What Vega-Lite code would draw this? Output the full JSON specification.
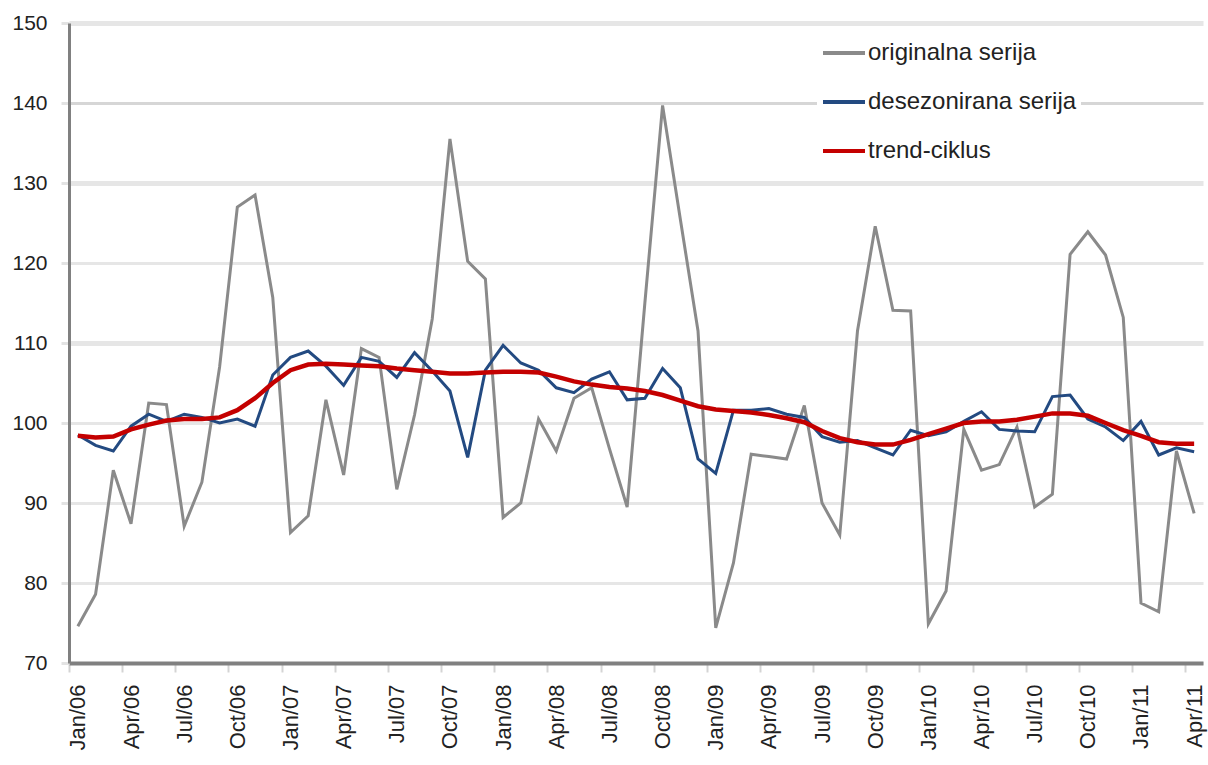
{
  "$schema": "https://vega.github.io/schema/vega-lite/v6.json",
  "width": 1134,
  "height": 640,
  "autosize": {"type": "none"},
  "padding": {"left": 69, "top": 23, "right": 5, "bottom": 102},
  "background": "white",
  "config": {
    "view": {"stroke": null},
    "font": "Liberation Sans"
  },
  "data": {
    "values": [
      {"m": "Jan/06", "originalna serija": 74.6, "desezonirana serija": 98.5, "trend-ciklus": 98.4},
      {"m": "Feb/06", "originalna serija": 78.6, "desezonirana serija": 97.2, "trend-ciklus": 98.2},
      {"m": "Mar/06", "originalna serija": 94.1, "desezonirana serija": 96.5, "trend-ciklus": 98.3},
      {"m": "Apr/06", "originalna serija": 87.4, "desezonirana serija": 99.6, "trend-ciklus": 99.2},
      {"m": "May/06", "originalna serija": 102.5, "desezonirana serija": 101.1, "trend-ciklus": 99.8},
      {"m": "Jun/06", "originalna serija": 102.3, "desezonirana serija": 100.2, "trend-ciklus": 100.3},
      {"m": "Jul/06", "originalna serija": 87.1, "desezonirana serija": 101.1, "trend-ciklus": 100.5},
      {"m": "Aug/06", "originalna serija": 92.6, "desezonirana serija": 100.7, "trend-ciklus": 100.5},
      {"m": "Sep/06", "originalna serija": 107.0, "desezonirana serija": 100.0, "trend-ciklus": 100.7},
      {"m": "Oct/06", "originalna serija": 127.0, "desezonirana serija": 100.5, "trend-ciklus": 101.6},
      {"m": "Nov/06", "originalna serija": 128.5, "desezonirana serija": 99.6, "trend-ciklus": 103.1},
      {"m": "Dec/06", "originalna serija": 115.7, "desezonirana serija": 106.0, "trend-ciklus": 105.0},
      {"m": "Jan/07", "originalna serija": 86.3, "desezonirana serija": 108.2, "trend-ciklus": 106.6},
      {"m": "Feb/07", "originalna serija": 88.4, "desezonirana serija": 109.0, "trend-ciklus": 107.3},
      {"m": "Mar/07", "originalna serija": 102.9, "desezonirana serija": 107.1, "trend-ciklus": 107.4},
      {"m": "Apr/07", "originalna serija": 93.5, "desezonirana serija": 104.7, "trend-ciklus": 107.3},
      {"m": "May/07", "originalna serija": 109.3, "desezonirana serija": 108.2, "trend-ciklus": 107.2},
      {"m": "Jun/07", "originalna serija": 108.2, "desezonirana serija": 107.7, "trend-ciklus": 107.1},
      {"m": "Jul/07", "originalna serija": 91.7, "desezonirana serija": 105.7, "trend-ciklus": 106.8},
      {"m": "Aug/07", "originalna serija": 101.0, "desezonirana serija": 108.8, "trend-ciklus": 106.6},
      {"m": "Sep/07", "originalna serija": 113.0, "desezonirana serija": 106.5, "trend-ciklus": 106.4},
      {"m": "Oct/07", "originalna serija": 135.5, "desezonirana serija": 104.0, "trend-ciklus": 106.2},
      {"m": "Nov/07", "originalna serija": 120.2, "desezonirana serija": 95.7, "trend-ciklus": 106.2},
      {"m": "Dec/07", "originalna serija": 118.0, "desezonirana serija": 106.6, "trend-ciklus": 106.3},
      {"m": "Jan/08", "originalna serija": 88.2, "desezonirana serija": 109.7, "trend-ciklus": 106.4},
      {"m": "Feb/08", "originalna serija": 90.0, "desezonirana serija": 107.5, "trend-ciklus": 106.4},
      {"m": "Mar/08", "originalna serija": 100.5, "desezonirana serija": 106.6, "trend-ciklus": 106.3},
      {"m": "Apr/08", "originalna serija": 96.5, "desezonirana serija": 104.4, "trend-ciklus": 105.8},
      {"m": "May/08", "originalna serija": 103.1, "desezonirana serija": 103.8, "trend-ciklus": 105.2},
      {"m": "Jun/08", "originalna serija": 104.4, "desezonirana serija": 105.5, "trend-ciklus": 104.8},
      {"m": "Jul/08", "originalna serija": 96.8, "desezonirana serija": 106.4, "trend-ciklus": 104.5},
      {"m": "Aug/08", "originalna serija": 89.5, "desezonirana serija": 102.9, "trend-ciklus": 104.3},
      {"m": "Sep/08", "originalna serija": 115.0, "desezonirana serija": 103.1, "trend-ciklus": 104.0},
      {"m": "Oct/08", "originalna serija": 139.7, "desezonirana serija": 106.8, "trend-ciklus": 103.5},
      {"m": "Nov/08", "originalna serija": 125.5, "desezonirana serija": 104.4, "trend-ciklus": 102.8},
      {"m": "Dec/08", "originalna serija": 111.5, "desezonirana serija": 95.5, "trend-ciklus": 102.1},
      {"m": "Jan/09", "originalna serija": 74.4, "desezonirana serija": 93.7, "trend-ciklus": 101.7},
      {"m": "Feb/09", "originalna serija": 82.5, "desezonirana serija": 101.6, "trend-ciklus": 101.5},
      {"m": "Mar/09", "originalna serija": 96.1, "desezonirana serija": 101.6, "trend-ciklus": 101.3},
      {"m": "Apr/09", "originalna serija": 95.8, "desezonirana serija": 101.8, "trend-ciklus": 101.0},
      {"m": "May/09", "originalna serija": 95.5, "desezonirana serija": 101.1, "trend-ciklus": 100.6},
      {"m": "Jun/09", "originalna serija": 102.2, "desezonirana serija": 100.7, "trend-ciklus": 100.1},
      {"m": "Jul/09", "originalna serija": 90.0, "desezonirana serija": 98.3, "trend-ciklus": 99.0},
      {"m": "Aug/09", "originalna serija": 86.0, "desezonirana serija": 97.6, "trend-ciklus": 98.1},
      {"m": "Sep/09", "originalna serija": 111.5, "desezonirana serija": 97.8, "trend-ciklus": 97.6},
      {"m": "Oct/09", "originalna serija": 124.6, "desezonirana serija": 96.9, "trend-ciklus": 97.3},
      {"m": "Nov/09", "originalna serija": 114.1, "desezonirana serija": 96.0, "trend-ciklus": 97.3},
      {"m": "Dec/09", "originalna serija": 114.0, "desezonirana serija": 99.1, "trend-ciklus": 97.9},
      {"m": "Jan/10", "originalna serija": 74.9, "desezonirana serija": 98.4, "trend-ciklus": 98.6},
      {"m": "Feb/10", "originalna serija": 79.0, "desezonirana serija": 98.9, "trend-ciklus": 99.3},
      {"m": "Mar/10", "originalna serija": 99.2, "desezonirana serija": 100.2, "trend-ciklus": 100.0},
      {"m": "Apr/10", "originalna serija": 94.1, "desezonirana serija": 101.4, "trend-ciklus": 100.2},
      {"m": "May/10", "originalna serija": 94.8, "desezonirana serija": 99.2, "trend-ciklus": 100.2},
      {"m": "Jun/10", "originalna serija": 99.5, "desezonirana serija": 99.0, "trend-ciklus": 100.4},
      {"m": "Jul/10", "originalna serija": 89.5, "desezonirana serija": 98.9, "trend-ciklus": 100.8},
      {"m": "Aug/10", "originalna serija": 91.1, "desezonirana serija": 103.3, "trend-ciklus": 101.2},
      {"m": "Sep/10", "originalna serija": 121.1, "desezonirana serija": 103.5, "trend-ciklus": 101.2},
      {"m": "Oct/10", "originalna serija": 123.9, "desezonirana serija": 100.5, "trend-ciklus": 100.9},
      {"m": "Nov/10", "originalna serija": 121.0, "desezonirana serija": 99.5, "trend-ciklus": 100.0},
      {"m": "Dec/10", "originalna serija": 113.2, "desezonirana serija": 97.8, "trend-ciklus": 99.1},
      {"m": "Jan/11", "originalna serija": 77.5, "desezonirana serija": 100.2, "trend-ciklus": 98.4},
      {"m": "Feb/11", "originalna serija": 76.4, "desezonirana serija": 96.0, "trend-ciklus": 97.6},
      {"m": "Mar/11", "originalna serija": 96.5, "desezonirana serija": 96.9, "trend-ciklus": 97.4},
      {"m": "Apr/11", "originalna serija": 88.7, "desezonirana serija": 96.4, "trend-ciklus": 97.4}
    ]
  },
  "transform": [
    {"fold": ["originalna serija", "desezonirana serija", "trend-ciklus"], "as": ["serija", "vrijednost"]}
  ],
  "encoding": {
    "x": {
      "field": "m",
      "type": "ordinal",
      "sort": null,
      "scale": {"type": "point", "padding": 0.5},
      "axis": {
        "title": null,
        "values": ["Jan/06", "Apr/06", "Jul/06", "Oct/06", "Jan/07", "Apr/07", "Jul/07", "Oct/07", "Jan/08", "Apr/08", "Jul/08", "Oct/08", "Jan/09", "Apr/09", "Jul/09", "Oct/09", "Jan/10", "Apr/10", "Jul/10", "Oct/10", "Jan/11", "Apr/11"],
        "labelAngle": 270,
        "labelFontSize": 22,
        "labelColor": "#222222",
        "labelPadding": 12,
        "tickOffset": -8.86,
        "labelOffset": 8.86,
        "tickSize": 9,
        "tickWidth": 2,
        "tickColor": "#d4d4d4",
        "domainColor": "#808080",
        "domainWidth": 4,
        "grid": false
      }
    },
    "y": {
      "field": "vrijednost",
      "type": "quantitative",
      "scale": {"domain": [70, 150], "nice": false, "zero": false},
      "axis": {
        "title": null,
        "values": [70, 80, 90, 100, 110, 120, 130, 140, 150],
        "labelFontSize": 21,
        "labelColor": "#222222",
        "labelPadding": 14,
        "tickSize": 8,
        "tickWidth": 3,
        "tickColor": "#e3e3e3",
        "domainColor": "#808080",
        "domainWidth": 3,
        "grid": true,
        "gridColor": {"condition": {"test": "datum.value == 140", "value": "#d6d6d6"}, "value": "#e6e6e6"},
        "gridWidth": {"condition": {"test": "datum.value == 150 || datum.value == 130 || datum.value == 110", "value": 5}, "value": 3}
      }
    },
    "color": {
      "field": "serija",
      "type": "nominal",
      "scale": {
        "domain": ["originalna serija", "desezonirana serija", "trend-ciklus"],
        "range": ["#8a8a8a", "#234a81", "#c40000"]
      },
      "legend": {
        "title": null,
        "orient": "none",
        "legendX": 748,
        "legendY": 3,
        "padding": 4,
        "fillColor": "white",
        "symbolType": "stroke",
        "symbolSize": 1764,
        "symbolStrokeWidth": 4,
        "labelFontSize": 24,
        "labelColor": "#222222",
        "labelOffset": 1,
        "labelLimit": 400,
        "rowPadding": 14
      }
    }
  },
  "layer": [
    {
      "transform": [{"filter": {"field": "serija", "equal": "originalna serija"}}],
      "mark": {"type": "line", "strokeWidth": 3}
    },
    {
      "transform": [{"filter": {"field": "serija", "equal": "desezonirana serija"}}],
      "mark": {"type": "line", "strokeWidth": 3}
    },
    {
      "transform": [{"filter": {"field": "serija", "equal": "trend-ciklus"}}],
      "mark": {"type": "line", "strokeWidth": 4.5}
    }
  ]
}
